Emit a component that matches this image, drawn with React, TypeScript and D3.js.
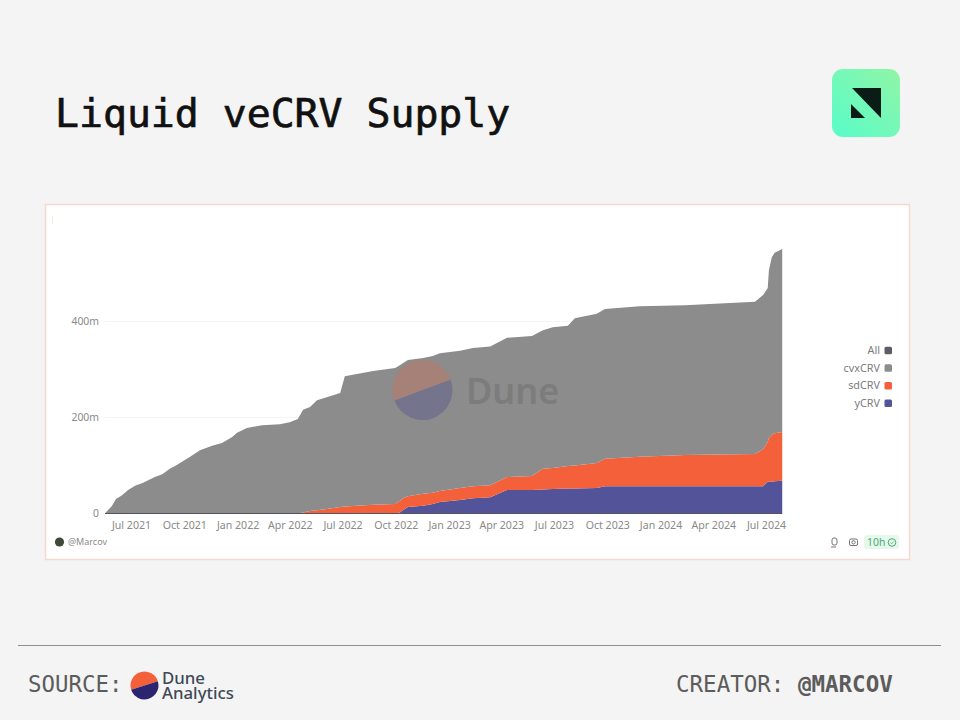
import { useRef, useEffect } from "react";
import * as d3 from "d3";

const dates = [
  "2021-05-17", "2021-05-29", "2021-06-05", "2021-06-15", "2021-06-26", "2021-07-08", "2021-07-22", "2021-08-11",
  "2021-08-24", "2021-09-06", "2021-09-18", "2021-10-11", "2021-10-28", "2021-11-18", "2021-12-05", "2021-12-22",
  "2021-12-31", "2022-01-17", "2022-02-12", "2022-03-15", "2022-04-01", "2022-04-15", "2022-04-24", "2022-05-06",
  "2022-05-18", "2022-06-01", "2022-06-27", "2022-07-05", "2022-08-23", "2022-09-30", "2022-10-08", "2022-10-13",
  "2022-10-22", "2022-11-17", "2022-12-04", "2022-12-16", "2023-01-20", "2023-02-11", "2023-03-13", "2023-04-11",
  "2023-05-24", "2023-06-12", "2023-06-29", "2023-07-25", "2023-08-06", "2023-09-13", "2023-09-27", "2023-11-26",
  "2024-02-12", "2024-06-12", "2024-06-26", "2024-07-04", "2024-07-06", "2024-07-11", "2024-07-16", "2024-07-29",
];

// values in millions
const yCRV = [
  0, 0, 0, 0, 0, 0, 0, 0, 0, 0, 0, 0, 0, 0, 0, 0, 0, 0, 0, 0, 0, 0, 0, 0, 0, 0, 0, 0, 0, 0,
  2, 7, 13.5, 16, 20, 24, 28, 32, 34, 49, 49, 50, 51, 52, 52, 53, 57, 57, 57, 57, 57, 66, 66, 66, 67, 68,
];
const sdCRV = [
  0, 0, 0, 0, 0, 0, 0, 0, 0, 0, 0, 0, 0, 0, 0, 0, 0, 0, 0, 0, 0, 0,
  2, 5, 7, 9, 13.5, 14.5, 18, 20, 24, 25, 22.5, 25, 23, 23, 25, 25, 25, 27, 29, 43, 44, 47, 48, 52, 57, 61, 65, 67,
  77, 83, 92, 98, 100, 102,
];
const cvxCRV = [
  0, 15.6, 30, 37.5, 49, 58, 64, 76, 82, 93, 101, 118, 132, 141, 147, 159, 168, 178, 184, 186, 190, 197,
  214, 217, 229, 232, 237.5, 271.5, 279, 283, 283, 281, 284, 283, 285, 287, 286, 288, 289, 290, 292, 289, 293, 292,
  307, 311, 312, 314, 312, 317, 321, 321, 349, 370, 376, 381,
];

const seriesKeys = ["yCRV", "sdCRV", "cvxCRV"];
const seriesColors = ["#53539a", "#f4603a", "#8c8c8c"];

const tickDates = [
  "2021-07-01", "2021-10-01", "2022-01-01", "2022-04-01", "2022-07-01", "2022-10-01", "2023-01-01",
  "2023-04-01", "2023-07-01", "2023-10-01", "2024-01-01", "2024-04-01", "2024-07-01",
];
const yTicks = [0, 200, 400];

const legendLabels = ["All", "cvxCRV", "sdCRV", "yCRV"];
const legendColors = ["#5d5d66", "#8c8c8c", "#f4603a", "#53539a"];

const parse = d3.utcParse("%Y-%m-%d");
const mono = "'DejaVu Sans Mono', monospace";
const sans = "'Noto Sans', sans-serif";

export default function App() {
  const svgRef = useRef<SVGSVGElement>(null);

  useEffect(() => {
    if (!svgRef.current) return;
    const svg = d3.select(svgRef.current);
    svg.selectAll("*").remove();

    svg.append("rect").attr("width", 960).attr("height", 720).attr("fill", "#f4f4f4");

    // title
    svg
      .append("text")
      .attr("x", 55)
      .attr("y", 127)
      .attr("font-family", mono)
      .attr("font-size", 39.8)
      .attr("fill", "#111")
      .attr("stroke", "#111")
      .attr("stroke-width", 0.7)
      .text("Liquid veCRV Supply");

    // logo
    const defs = svg.append("defs");
    const grad = defs
      .append("linearGradient")
      .attr("id", "logoGrad")
      .attr("x1", 0)
      .attr("y1", 1)
      .attr("x2", 1)
      .attr("y2", 0);
    grad.append("stop").attr("offset", "0%").attr("stop-color", "#58fcca");
    grad.append("stop").attr("offset", "100%").attr("stop-color", "#90f5a6");
    svg
      .append("rect")
      .attr("x", 832)
      .attr("y", 69)
      .attr("width", 68)
      .attr("height", 68)
      .attr("rx", 11)
      .attr("fill", "url(#logoGrad)");
    svg.append("path").attr("d", "M852 88H881V118Z").attr("fill", "#0b1c16");
    svg.append("path").attr("d", "M851 104V118H865Z").attr("fill", "#0b1c16");

    // card
    svg
      .append("rect")
      .attr("x", 45.5)
      .attr("y", 204.5)
      .attr("width", 864)
      .attr("height", 355)
      .attr("fill", "#fff")
      .attr("stroke", "#f6d8cf")
      .attr("stroke-width", 1.5);
    svg
      .append("line")
      .attr("x1", 52.5)
      .attr("x2", 52.5)
      .attr("y1", 216)
      .attr("y2", 224)
      .attr("stroke", "#f3ecd8");

    const x = d3
      .scaleUtc()
      .domain([parse("2021-07-01")!, parse("2024-07-01")!])
      .range([131, 766]);
    const y = d3.scaleLinear().domain([0, 400]).range([513.5, 321.5]);

    const table = dates.map((d, i) => ({
      date: parse(d)!,
      yCRV: yCRV[i],
      sdCRV: sdCRV[i],
      cvxCRV: cvxCRV[i],
    }));

    // gridlines
    const x0 = x(parse(dates[0])!);
    const x1 = x(parse(dates[dates.length - 1])!);
    svg
      .append("g")
      .selectAll("line")
      .data(yTicks.filter((t) => t > 0))
      .enter()
      .append("line")
      .attr("x1", x0)
      .attr("x2", x1)
      .attr("y1", (d) => y(d))
      .attr("y2", (d) => y(d))
      .attr("stroke", "#f5f5f5");

    const stack = d3.stack<any>().keys(seriesKeys);
    const area = d3
      .area<d3.SeriesPoint<any>>()
      .x((d) => x(d.data.date))
      .y0((d) => y(d[0]))
      .y1((d) => y(d[1]));

    svg
      .append("g")
      .selectAll("path")
      .data(stack(table))
      .enter()
      .append("path")
      .attr("d", (d) => area(d))
      .attr("fill", (_, i) => seriesColors[i]);

    // baseline
    svg
      .append("line")
      .attr("x1", x0)
      .attr("x2", x1)
      .attr("y1", y(0))
      .attr("y2", y(0))
      .attr("stroke", "#55555f")
      .attr("stroke-width", 1);

    // Dune watermark
    const wm = svg.append("g").attr("transform", "translate(422.5,390)");
    const pie = d3.arc();
    wm.append("path")
      .attr("d", pie({ innerRadius: 0, outerRadius: 30, startAngle: -1.93, endAngle: 1.22 })!)
      .attr("fill", "#f4603a")
      .attr("opacity", 0.25);
    wm.append("path")
      .attr("d", pie({ innerRadius: 0, outerRadius: 30, startAngle: 1.22, endAngle: 4.35 })!)
      .attr("fill", "#2c2c8a")
      .attr("opacity", 0.25);
    svg
      .append("text")
      .attr("x", 466)
      .attr("y", 404)
      .attr("font-family", sans)
      .attr("font-size", 36)
      .attr("font-weight", 600)
      .attr("fill", "#7c7c7c")
      .text("Dune");

    // axes
    const xAxis = d3
      .axisBottom(x)
      .tickValues(tickDates.map((d) => parse(d)!))
      .tickSize(0)
      .tickPadding(0)
      .tickFormat((d) => d3.utcFormat("%b %Y")(d as Date));
    const xg = svg.append("g").attr("transform", "translate(0,521)").call(xAxis);
    xg.select(".domain").remove();
    xg.selectAll("text")
      .attr("font-family", sans)
      .attr("font-size", 10.6)
      .attr("fill", "#8a8a8a");

    const yAxis = d3
      .axisLeft(y)
      .tickValues(yTicks)
      .tickSize(0)
      .tickPadding(0)
      .tickFormat((d) => (d === 0 ? "0" : `${d}m`));
    const yg = svg.append("g").attr("transform", "translate(99,0)").call(yAxis);
    yg.select(".domain").remove();
    yg.selectAll("text")
      .attr("font-family", sans)
      .attr("font-size", 10.4)
      .attr("fill", "#8a8a8a");

    // legend
    const legend = svg.append("g");
    legendLabels.forEach((label, i) => {
      const ly = 350.5 + i * 17.6;
      legend
        .append("text")
        .attr("x", 880)
        .attr("y", ly)
        .attr("dy", "0.35em")
        .attr("text-anchor", "end")
        .attr("font-family", sans)
        .attr("font-size", 10.8)
        .attr("fill", "#7b7b80")
        .text(label);
      legend
        .append("rect")
        .attr("x", 884.5)
        .attr("y", ly - 3.8)
        .attr("width", 7.5)
        .attr("height", 7.5)
        .attr("rx", 1.5)
        .attr("fill", legendColors[i]);
    });

    // author
    svg.append("circle").attr("cx", 59.5).attr("cy", 542).attr("r", 4.6).attr("fill", "#3d4a3a");
    svg
      .append("text")
      .attr("x", 68)
      .attr("y", 545)
      .attr("font-family", sans)
      .attr("font-size", 9)
      .attr("fill", "#8a8a8a")
      .text("@Marcov");

    // toolbar icons
    svg
      .append("rect")
      .attr("x", 832)
      .attr("y", 538)
      .attr("width", 5)
      .attr("height", 7)
      .attr("rx", 2)
      .attr("fill", "none")
      .attr("stroke", "#777");
    svg
      .append("line")
      .attr("x1", 831)
      .attr("x2", 836)
      .attr("y1", 547)
      .attr("y2", 547)
      .attr("stroke", "#777");
    svg
      .append("rect")
      .attr("x", 849.5)
      .attr("y", 539)
      .attr("width", 8)
      .attr("height", 6.5)
      .attr("rx", 1.5)
      .attr("fill", "none")
      .attr("stroke", "#777");
    svg
      .append("circle")
      .attr("cx", 853.5)
      .attr("cy", 542.3)
      .attr("r", 1.7)
      .attr("fill", "none")
      .attr("stroke", "#777");
    svg
      .append("rect")
      .attr("x", 864)
      .attr("y", 535)
      .attr("width", 35)
      .attr("height", 14)
      .attr("rx", 3)
      .attr("fill", "#e4f8ec");
    svg
      .append("text")
      .attr("x", 867)
      .attr("y", 545.5)
      .attr("font-family", sans)
      .attr("font-size", 10.4)
      .attr("fill", "#4fa873")
      .text("10h");
    svg
      .append("circle")
      .attr("cx", 892)
      .attr("cy", 542.5)
      .attr("r", 3.8)
      .attr("fill", "none")
      .attr("stroke", "#4fa873");
    svg
      .append("path")
      .attr("d", "M890.4 542.6l1.2 1.2 2-2.2")
      .attr("fill", "none")
      .attr("stroke", "#4fa873")
      .attr("stroke-width", 0.8);

    // footer
    svg
      .append("line")
      .attr("x1", 18)
      .attr("x2", 941)
      .attr("y1", 645.5)
      .attr("y2", 645.5)
      .attr("stroke", "#8f8f8f");
    svg
      .append("text")
      .attr("x", 28)
      .attr("y", 692)
      .attr("font-family", mono)
      .attr("font-size", 22.4)
      .attr("fill", "#5c5c5c")
      .text("SOURCE:");

    const dl = svg.append("g").attr("transform", "translate(144.5,685.5)");
    dl.append("path")
      .attr("d", pie({ innerRadius: 0, outerRadius: 14, startAngle: -1.88, endAngle: 1.26 })!)
      .attr("fill", "#f4603a");
    dl.append("path")
      .attr("d", pie({ innerRadius: 0, outerRadius: 14, startAngle: 1.26, endAngle: 4.4 })!)
      .attr("fill", "#2b2470");
    const dlText = svg
      .append("text")
      .attr("font-family", sans)
      .attr("font-size", 16.8)
      .attr("font-weight", 500)
      .attr("fill", "#3f4a55");
    dlText.append("tspan").attr("x", 162).attr("y", 683.5).text("Dune");
    dlText.append("tspan").attr("x", 162).attr("y", 699).text("Analytics");

    const creator = svg
      .append("text")
      .attr("x", 676)
      .attr("y", 692)
      .attr("font-family", mono)
      .attr("font-size", 22.5)
      .attr("fill", "#5c5c5c");
    creator.append("tspan").text("CREATOR: ");
    creator.append("tspan").attr("font-weight", 700).text("@MARCOV");
  }, []);

  return (
    <svg
      ref={svgRef}
      width={960}
      height={720}
      role="img"
      aria-label="Liquid veCRV supply stacked area chart"
      style={{ position: "absolute", left: 0, top: 0, display: "block" }}
    />
  );
}
